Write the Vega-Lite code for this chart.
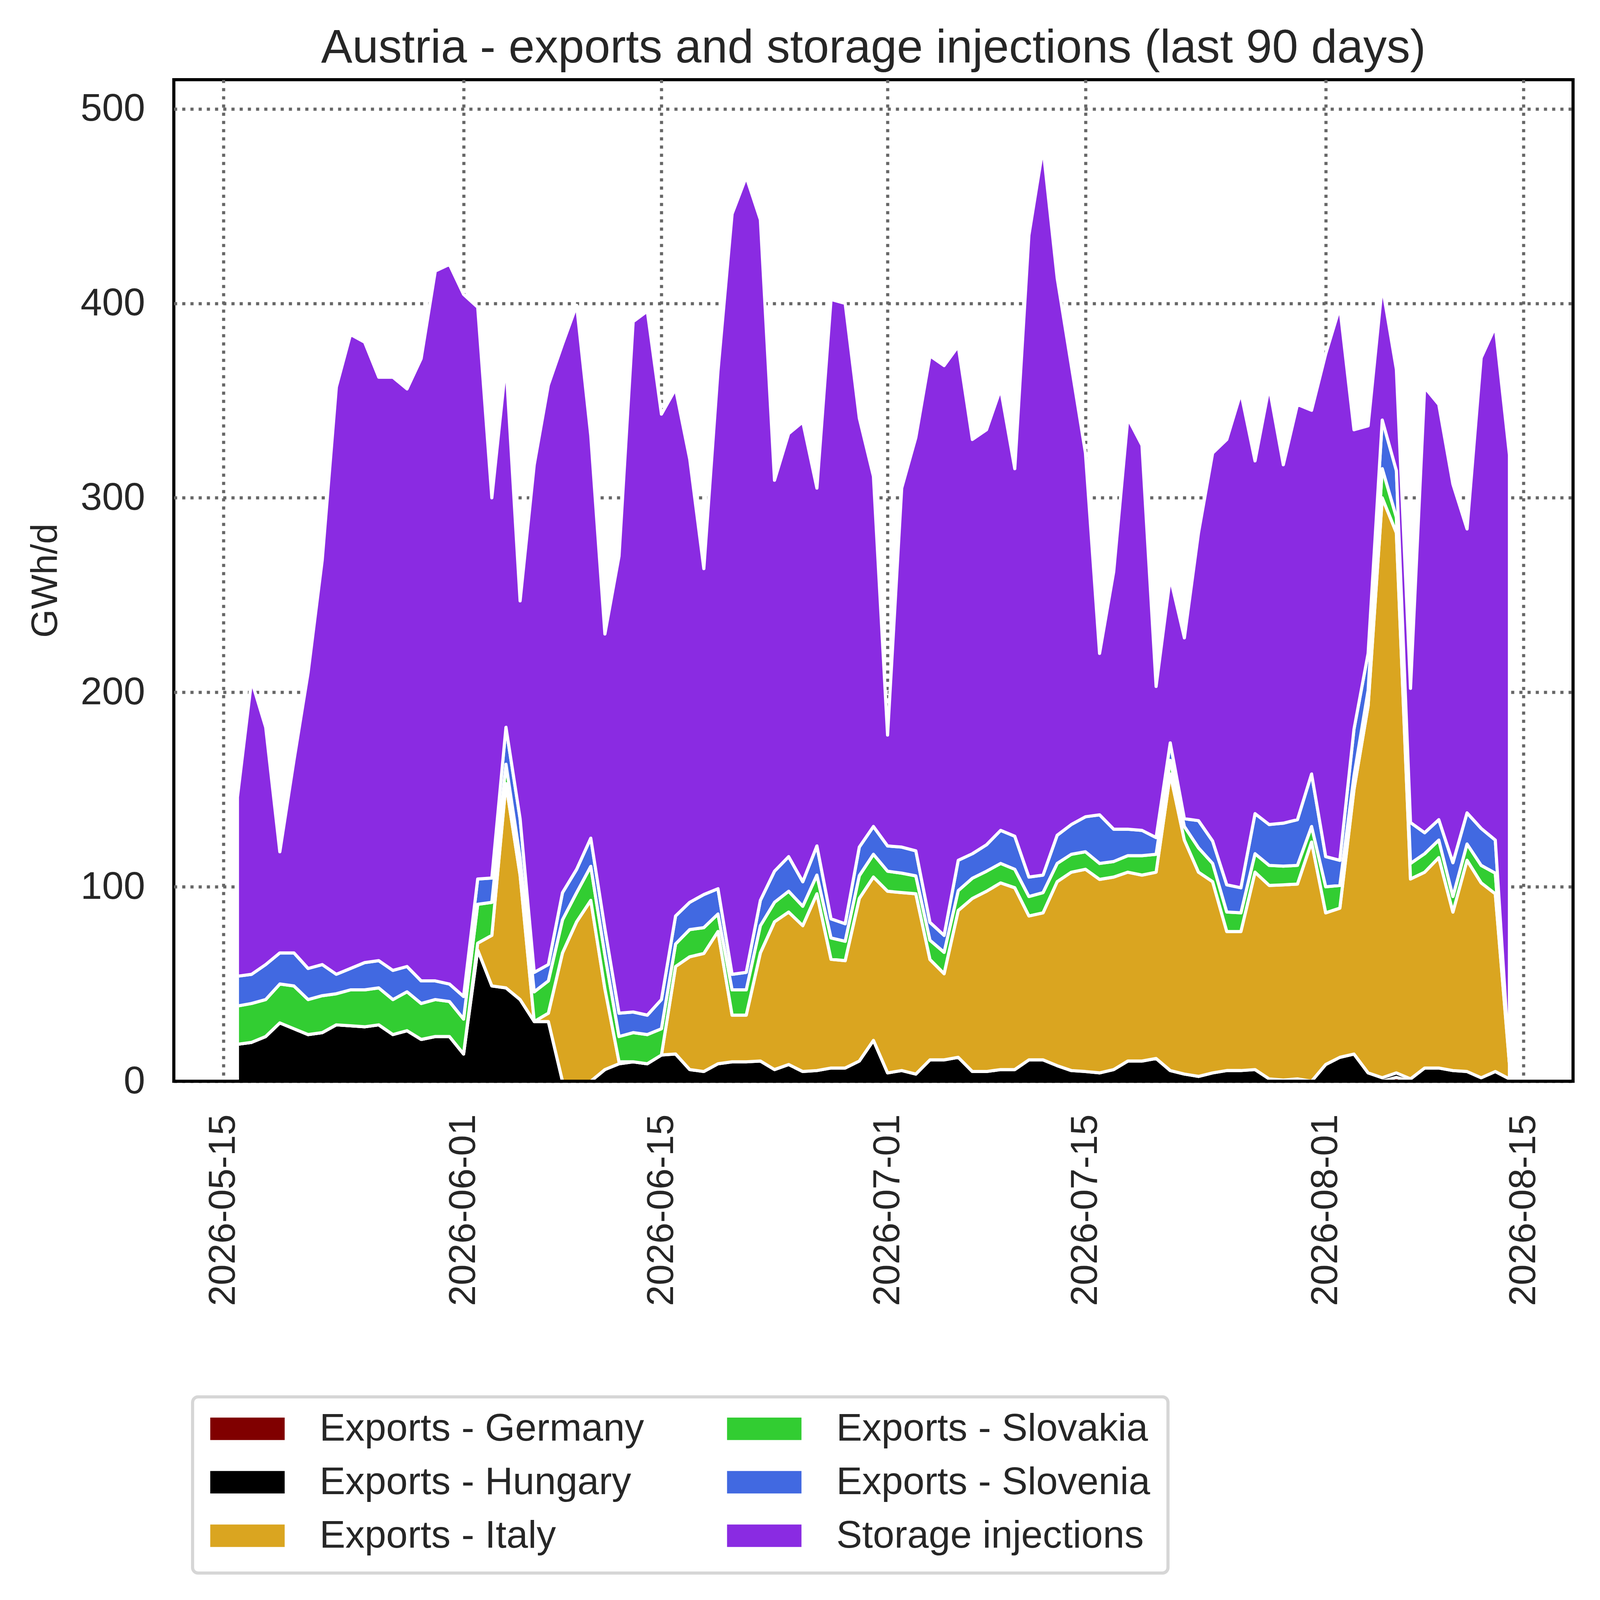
{
  "$schema": "https://vega.github.io/schema/vega-lite/v6.json",
  "width": 3582,
  "height": 2564,
  "autosize": {"type": "none"},
  "padding": {"left": 445, "top": 204, "right": 69, "bottom": 1328},
  "background": "white",
  "config": {
    "font": "Liberation Sans",
    "view": {"stroke": "black", "strokeWidth": 8},
    "legend": {"strokeWidth": 8}
  },
  "title": {
    "text": "Austria - exports and storage injections (last 90 days)",
    "fontSize": 120,
    "fontWeight": "normal",
    "color": "#262626",
    "anchor": "middle",
    "frame": "group",
    "offset": 19
  },
  "data": {
    "values": [
      {"date":"2026-05-16","series":"Exports - Germany","value":0},{"date":"2026-05-16","series":"Exports - Hungary","value":19},{"date":"2026-05-16","series":"Exports - Italy","value":0},{"date":"2026-05-16","series":"Exports - Slovakia","value":19.7},{"date":"2026-05-16","series":"Exports - Slovenia","value":15.3},{"date":"2026-05-16","series":"Storage injections","value":92},
      {"date":"2026-05-17","series":"Exports - Germany","value":0},{"date":"2026-05-17","series":"Exports - Hungary","value":20},{"date":"2026-05-17","series":"Exports - Italy","value":0},{"date":"2026-05-17","series":"Exports - Slovakia","value":20},{"date":"2026-05-17","series":"Exports - Slovenia","value":15},{"date":"2026-05-17","series":"Storage injections","value":151},
      {"date":"2026-05-18","series":"Exports - Germany","value":0},{"date":"2026-05-18","series":"Exports - Hungary","value":23},{"date":"2026-05-18","series":"Exports - Italy","value":0},{"date":"2026-05-18","series":"Exports - Slovakia","value":19},{"date":"2026-05-18","series":"Exports - Slovenia","value":18},{"date":"2026-05-18","series":"Storage injections","value":122},
      {"date":"2026-05-19","series":"Exports - Germany","value":0},{"date":"2026-05-19","series":"Exports - Hungary","value":30},{"date":"2026-05-19","series":"Exports - Italy","value":0},{"date":"2026-05-19","series":"Exports - Slovakia","value":20},{"date":"2026-05-19","series":"Exports - Slovenia","value":16},{"date":"2026-05-19","series":"Storage injections","value":52},
      {"date":"2026-05-20","series":"Exports - Germany","value":0},{"date":"2026-05-20","series":"Exports - Hungary","value":27},{"date":"2026-05-20","series":"Exports - Italy","value":0},{"date":"2026-05-20","series":"Exports - Slovakia","value":22},{"date":"2026-05-20","series":"Exports - Slovenia","value":17},{"date":"2026-05-20","series":"Storage injections","value":99},
      {"date":"2026-05-21","series":"Exports - Germany","value":0},{"date":"2026-05-21","series":"Exports - Hungary","value":24},{"date":"2026-05-21","series":"Exports - Italy","value":0},{"date":"2026-05-21","series":"Exports - Slovakia","value":18},{"date":"2026-05-21","series":"Exports - Slovenia","value":16},{"date":"2026-05-21","series":"Storage injections","value":152},
      {"date":"2026-05-22","series":"Exports - Germany","value":0},{"date":"2026-05-22","series":"Exports - Hungary","value":25},{"date":"2026-05-22","series":"Exports - Italy","value":0},{"date":"2026-05-22","series":"Exports - Slovakia","value":19},{"date":"2026-05-22","series":"Exports - Slovenia","value":16},{"date":"2026-05-22","series":"Storage injections","value":208},
      {"date":"2026-05-23","series":"Exports - Germany","value":0},{"date":"2026-05-23","series":"Exports - Hungary","value":29},{"date":"2026-05-23","series":"Exports - Italy","value":0},{"date":"2026-05-23","series":"Exports - Slovakia","value":16},{"date":"2026-05-23","series":"Exports - Slovenia","value":10},{"date":"2026-05-23","series":"Storage injections","value":302},
      {"date":"2026-05-24","series":"Exports - Germany","value":0},{"date":"2026-05-24","series":"Exports - Hungary","value":28.5},{"date":"2026-05-24","series":"Exports - Italy","value":0},{"date":"2026-05-24","series":"Exports - Slovakia","value":18.5},{"date":"2026-05-24","series":"Exports - Slovenia","value":11},{"date":"2026-05-24","series":"Storage injections","value":326},
      {"date":"2026-05-25","series":"Exports - Germany","value":0},{"date":"2026-05-25","series":"Exports - Hungary","value":28},{"date":"2026-05-25","series":"Exports - Italy","value":0},{"date":"2026-05-25","series":"Exports - Slovakia","value":19},{"date":"2026-05-25","series":"Exports - Slovenia","value":14},{"date":"2026-05-25","series":"Storage injections","value":319},
      {"date":"2026-05-26","series":"Exports - Germany","value":0},{"date":"2026-05-26","series":"Exports - Hungary","value":29},{"date":"2026-05-26","series":"Exports - Italy","value":0},{"date":"2026-05-26","series":"Exports - Slovakia","value":19},{"date":"2026-05-26","series":"Exports - Slovenia","value":14},{"date":"2026-05-26","series":"Storage injections","value":300},
      {"date":"2026-05-27","series":"Exports - Germany","value":0},{"date":"2026-05-27","series":"Exports - Hungary","value":24},{"date":"2026-05-27","series":"Exports - Italy","value":0},{"date":"2026-05-27","series":"Exports - Slovakia","value":18},{"date":"2026-05-27","series":"Exports - Slovenia","value":15},{"date":"2026-05-27","series":"Storage injections","value":305},
      {"date":"2026-05-28","series":"Exports - Germany","value":0},{"date":"2026-05-28","series":"Exports - Hungary","value":26},{"date":"2026-05-28","series":"Exports - Italy","value":0},{"date":"2026-05-28","series":"Exports - Slovakia","value":20},{"date":"2026-05-28","series":"Exports - Slovenia","value":13},{"date":"2026-05-28","series":"Storage injections","value":297},
      {"date":"2026-05-29","series":"Exports - Germany","value":0},{"date":"2026-05-29","series":"Exports - Hungary","value":21.5},{"date":"2026-05-29","series":"Exports - Italy","value":0},{"date":"2026-05-29","series":"Exports - Slovakia","value":18.5},{"date":"2026-05-29","series":"Exports - Slovenia","value":11.6},{"date":"2026-05-29","series":"Storage injections","value":320},
      {"date":"2026-05-30","series":"Exports - Germany","value":0},{"date":"2026-05-30","series":"Exports - Hungary","value":23},{"date":"2026-05-30","series":"Exports - Italy","value":0},{"date":"2026-05-30","series":"Exports - Slovakia","value":19},{"date":"2026-05-30","series":"Exports - Slovenia","value":9.6},{"date":"2026-05-30","series":"Storage injections","value":365},
      {"date":"2026-05-31","series":"Exports - Germany","value":0},{"date":"2026-05-31","series":"Exports - Hungary","value":23},{"date":"2026-05-31","series":"Exports - Italy","value":0},{"date":"2026-05-31","series":"Exports - Slovakia","value":18},{"date":"2026-05-31","series":"Exports - Slovenia","value":9},{"date":"2026-05-31","series":"Storage injections","value":370},
      {"date":"2026-06-01","series":"Exports - Germany","value":0},{"date":"2026-06-01","series":"Exports - Hungary","value":14},{"date":"2026-06-01","series":"Exports - Italy","value":0},{"date":"2026-06-01","series":"Exports - Slovakia","value":18},{"date":"2026-06-01","series":"Exports - Slovenia","value":11.6},{"date":"2026-06-01","series":"Storage injections","value":361},
      {"date":"2026-06-02","series":"Exports - Germany","value":0},{"date":"2026-06-02","series":"Exports - Hungary","value":67.5},{"date":"2026-06-02","series":"Exports - Italy","value":3.5},{"date":"2026-06-02","series":"Exports - Slovakia","value":20},{"date":"2026-06-02","series":"Exports - Slovenia","value":13},{"date":"2026-06-02","series":"Storage injections","value":294},
      {"date":"2026-06-03","series":"Exports - Germany","value":0},{"date":"2026-06-03","series":"Exports - Hungary","value":49},{"date":"2026-06-03","series":"Exports - Italy","value":26},{"date":"2026-06-03","series":"Exports - Slovakia","value":17},{"date":"2026-06-03","series":"Exports - Slovenia","value":12.5},{"date":"2026-06-03","series":"Storage injections","value":195.5},
      {"date":"2026-06-04","series":"Exports - Germany","value":0},{"date":"2026-06-04","series":"Exports - Hungary","value":48},{"date":"2026-06-04","series":"Exports - Italy","value":105},{"date":"2026-06-04","series":"Exports - Slovakia","value":10},{"date":"2026-06-04","series":"Exports - Slovenia","value":19},{"date":"2026-06-04","series":"Storage injections","value":187},
      {"date":"2026-06-05","series":"Exports - Germany","value":0},{"date":"2026-06-05","series":"Exports - Hungary","value":42},{"date":"2026-06-05","series":"Exports - Italy","value":64},{"date":"2026-06-05","series":"Exports - Slovakia","value":9},{"date":"2026-06-05","series":"Exports - Slovenia","value":20},{"date":"2026-06-05","series":"Storage injections","value":112},
      {"date":"2026-06-06","series":"Exports - Germany","value":0},{"date":"2026-06-06","series":"Exports - Hungary","value":30.7},{"date":"2026-06-06","series":"Exports - Italy","value":0},{"date":"2026-06-06","series":"Exports - Slovakia","value":15.3},{"date":"2026-06-06","series":"Exports - Slovenia","value":10},{"date":"2026-06-06","series":"Storage injections","value":261},
      {"date":"2026-06-07","series":"Exports - Germany","value":0},{"date":"2026-06-07","series":"Exports - Hungary","value":30.7},{"date":"2026-06-07","series":"Exports - Italy","value":4.3},{"date":"2026-06-07","series":"Exports - Slovakia","value":16.6},{"date":"2026-06-07","series":"Exports - Slovenia","value":8.4},{"date":"2026-06-07","series":"Storage injections","value":298},
      {"date":"2026-06-08","series":"Exports - Germany","value":0},{"date":"2026-06-08","series":"Exports - Hungary","value":0},{"date":"2026-06-08","series":"Exports - Italy","value":66},{"date":"2026-06-08","series":"Exports - Slovakia","value":17},{"date":"2026-06-08","series":"Exports - Slovenia","value":14},{"date":"2026-06-08","series":"Storage injections","value":282},
      {"date":"2026-06-09","series":"Exports - Germany","value":0},{"date":"2026-06-09","series":"Exports - Hungary","value":0},{"date":"2026-06-09","series":"Exports - Italy","value":82},{"date":"2026-06-09","series":"Exports - Slovakia","value":15},{"date":"2026-06-09","series":"Exports - Slovenia","value":12},{"date":"2026-06-09","series":"Storage injections","value":290},
      {"date":"2026-06-10","series":"Exports - Germany","value":0},{"date":"2026-06-10","series":"Exports - Hungary","value":0},{"date":"2026-06-10","series":"Exports - Italy","value":93},{"date":"2026-06-10","series":"Exports - Slovakia","value":17.5},{"date":"2026-06-10","series":"Exports - Slovenia","value":14.5},{"date":"2026-06-10","series":"Storage injections","value":207},
      {"date":"2026-06-11","series":"Exports - Germany","value":0},{"date":"2026-06-11","series":"Exports - Hungary","value":6},{"date":"2026-06-11","series":"Exports - Italy","value":41.5},{"date":"2026-06-11","series":"Exports - Slovakia","value":17.5},{"date":"2026-06-11","series":"Exports - Slovenia","value":13.5},{"date":"2026-06-11","series":"Storage injections","value":151.5},
      {"date":"2026-06-12","series":"Exports - Germany","value":0},{"date":"2026-06-12","series":"Exports - Hungary","value":9},{"date":"2026-06-12","series":"Exports - Italy","value":1},{"date":"2026-06-12","series":"Exports - Slovakia","value":13},{"date":"2026-06-12","series":"Exports - Slovenia","value":12},{"date":"2026-06-12","series":"Storage injections","value":235},
      {"date":"2026-06-13","series":"Exports - Germany","value":0},{"date":"2026-06-13","series":"Exports - Hungary","value":10},{"date":"2026-06-13","series":"Exports - Italy","value":0},{"date":"2026-06-13","series":"Exports - Slovakia","value":15},{"date":"2026-06-13","series":"Exports - Slovenia","value":10.6},{"date":"2026-06-13","series":"Storage injections","value":355},
      {"date":"2026-06-14","series":"Exports - Germany","value":0},{"date":"2026-06-14","series":"Exports - Hungary","value":9},{"date":"2026-06-14","series":"Exports - Italy","value":0},{"date":"2026-06-14","series":"Exports - Slovakia","value":15},{"date":"2026-06-14","series":"Exports - Slovenia","value":10},{"date":"2026-06-14","series":"Storage injections","value":362},
      {"date":"2026-06-15","series":"Exports - Germany","value":0},{"date":"2026-06-15","series":"Exports - Hungary","value":13.5},{"date":"2026-06-15","series":"Exports - Italy","value":0},{"date":"2026-06-15","series":"Exports - Slovakia","value":13.5},{"date":"2026-06-15","series":"Exports - Slovenia","value":15},{"date":"2026-06-15","series":"Storage injections","value":301},
      {"date":"2026-06-16","series":"Exports - Germany","value":0},{"date":"2026-06-16","series":"Exports - Hungary","value":14},{"date":"2026-06-16","series":"Exports - Italy","value":45},{"date":"2026-06-16","series":"Exports - Slovakia","value":11.6},{"date":"2026-06-16","series":"Exports - Slovenia","value":14.4},{"date":"2026-06-16","series":"Storage injections","value":271},
      {"date":"2026-06-17","series":"Exports - Germany","value":0},{"date":"2026-06-17","series":"Exports - Hungary","value":6},{"date":"2026-06-17","series":"Exports - Italy","value":58},{"date":"2026-06-17","series":"Exports - Slovakia","value":14},{"date":"2026-06-17","series":"Exports - Slovenia","value":14},{"date":"2026-06-17","series":"Storage injections","value":228},
      {"date":"2026-06-18","series":"Exports - Germany","value":0},{"date":"2026-06-18","series":"Exports - Hungary","value":5},{"date":"2026-06-18","series":"Exports - Italy","value":60.7},{"date":"2026-06-18","series":"Exports - Slovakia","value":13.3},{"date":"2026-06-18","series":"Exports - Slovenia","value":17},{"date":"2026-06-18","series":"Storage injections","value":167.6},
      {"date":"2026-06-19","series":"Exports - Germany","value":0},{"date":"2026-06-19","series":"Exports - Hungary","value":9},{"date":"2026-06-19","series":"Exports - Italy","value":68},{"date":"2026-06-19","series":"Exports - Slovakia","value":9},{"date":"2026-06-19","series":"Exports - Slovenia","value":13},{"date":"2026-06-19","series":"Storage injections","value":266},
      {"date":"2026-06-20","series":"Exports - Germany","value":0},{"date":"2026-06-20","series":"Exports - Hungary","value":10},{"date":"2026-06-20","series":"Exports - Italy","value":24},{"date":"2026-06-20","series":"Exports - Slovakia","value":13},{"date":"2026-06-20","series":"Exports - Slovenia","value":8},{"date":"2026-06-20","series":"Storage injections","value":391},
      {"date":"2026-06-21","series":"Exports - Germany","value":0},{"date":"2026-06-21","series":"Exports - Hungary","value":10},{"date":"2026-06-21","series":"Exports - Italy","value":24},{"date":"2026-06-21","series":"Exports - Slovakia","value":13},{"date":"2026-06-21","series":"Exports - Slovenia","value":9},{"date":"2026-06-21","series":"Storage injections","value":409},
      {"date":"2026-06-22","series":"Exports - Germany","value":0},{"date":"2026-06-22","series":"Exports - Hungary","value":10.4},{"date":"2026-06-22","series":"Exports - Italy","value":55.6},{"date":"2026-06-22","series":"Exports - Slovakia","value":14},{"date":"2026-06-22","series":"Exports - Slovenia","value":13},{"date":"2026-06-22","series":"Storage injections","value":350},
      {"date":"2026-06-23","series":"Exports - Germany","value":0},{"date":"2026-06-23","series":"Exports - Hungary","value":6},{"date":"2026-06-23","series":"Exports - Italy","value":76},{"date":"2026-06-23","series":"Exports - Slovakia","value":10},{"date":"2026-06-23","series":"Exports - Slovenia","value":16},{"date":"2026-06-23","series":"Storage injections","value":201},
      {"date":"2026-06-24","series":"Exports - Germany","value":0},{"date":"2026-06-24","series":"Exports - Hungary","value":8.6},{"date":"2026-06-24","series":"Exports - Italy","value":78.4},{"date":"2026-06-24","series":"Exports - Slovakia","value":10.7},{"date":"2026-06-24","series":"Exports - Slovenia","value":17.8},{"date":"2026-06-24","series":"Storage injections","value":217.5},
      {"date":"2026-06-25","series":"Exports - Germany","value":0},{"date":"2026-06-25","series":"Exports - Hungary","value":5},{"date":"2026-06-25","series":"Exports - Italy","value":75},{"date":"2026-06-25","series":"Exports - Slovakia","value":10},{"date":"2026-06-25","series":"Exports - Slovenia","value":12.6},{"date":"2026-06-25","series":"Storage injections","value":236.4},
      {"date":"2026-06-26","series":"Exports - Germany","value":0},{"date":"2026-06-26","series":"Exports - Hungary","value":5.5},{"date":"2026-06-26","series":"Exports - Italy","value":90.9},{"date":"2026-06-26","series":"Exports - Slovakia","value":9.6},{"date":"2026-06-26","series":"Exports - Slovenia","value":15},{"date":"2026-06-26","series":"Storage injections","value":184},
      {"date":"2026-06-27","series":"Exports - Germany","value":0},{"date":"2026-06-27","series":"Exports - Hungary","value":6.8},{"date":"2026-06-27","series":"Exports - Italy","value":55.9},{"date":"2026-06-27","series":"Exports - Slovakia","value":11},{"date":"2026-06-27","series":"Exports - Slovenia","value":9.8},{"date":"2026-06-27","series":"Storage injections","value":318.5},
      {"date":"2026-06-28","series":"Exports - Germany","value":0},{"date":"2026-06-28","series":"Exports - Hungary","value":6.8},{"date":"2026-06-28","series":"Exports - Italy","value":55.2},{"date":"2026-06-28","series":"Exports - Slovakia","value":10},{"date":"2026-06-28","series":"Exports - Slovenia","value":9},{"date":"2026-06-28","series":"Storage injections","value":319},
      {"date":"2026-06-29","series":"Exports - Germany","value":0},{"date":"2026-06-29","series":"Exports - Hungary","value":10.4},{"date":"2026-06-29","series":"Exports - Italy","value":83.6},{"date":"2026-06-29","series":"Exports - Slovakia","value":11.7},{"date":"2026-06-29","series":"Exports - Slovenia","value":14.7},{"date":"2026-06-29","series":"Storage injections","value":220.6},
      {"date":"2026-06-30","series":"Exports - Germany","value":0},{"date":"2026-06-30","series":"Exports - Hungary","value":21},{"date":"2026-06-30","series":"Exports - Italy","value":84},{"date":"2026-06-30","series":"Exports - Slovakia","value":11.7},{"date":"2026-06-30","series":"Exports - Slovenia","value":14.3},{"date":"2026-06-30","series":"Storage injections","value":180},
      {"date":"2026-07-01","series":"Exports - Germany","value":0},{"date":"2026-07-01","series":"Exports - Hungary","value":4.3},{"date":"2026-07-01","series":"Exports - Italy","value":93.4},{"date":"2026-07-01","series":"Exports - Slovakia","value":10.3},{"date":"2026-07-01","series":"Exports - Slovenia","value":13},{"date":"2026-07-01","series":"Storage injections","value":57},
      {"date":"2026-07-02","series":"Exports - Germany","value":0},{"date":"2026-07-02","series":"Exports - Hungary","value":5.5},{"date":"2026-07-02","series":"Exports - Italy","value":91.5},{"date":"2026-07-02","series":"Exports - Slovakia","value":10},{"date":"2026-07-02","series":"Exports - Slovenia","value":13.4},{"date":"2026-07-02","series":"Storage injections","value":184.6},
      {"date":"2026-07-03","series":"Exports - Germany","value":0},{"date":"2026-07-03","series":"Exports - Hungary","value":3.7},{"date":"2026-07-03","series":"Exports - Italy","value":92.7},{"date":"2026-07-03","series":"Exports - Slovakia","value":9.2},{"date":"2026-07-03","series":"Exports - Slovenia","value":12.9},{"date":"2026-07-03","series":"Storage injections","value":212.5},
      {"date":"2026-07-04","series":"Exports - Germany","value":0},{"date":"2026-07-04","series":"Exports - Hungary","value":11},{"date":"2026-07-04","series":"Exports - Italy","value":51.6},{"date":"2026-07-04","series":"Exports - Slovakia","value":9.9},{"date":"2026-07-04","series":"Exports - Slovenia","value":9.2},{"date":"2026-07-04","series":"Storage injections","value":291.3},
      {"date":"2026-07-05","series":"Exports - Germany","value":0},{"date":"2026-07-05","series":"Exports - Hungary","value":11},{"date":"2026-07-05","series":"Exports - Italy","value":44.3},{"date":"2026-07-05","series":"Exports - Slovakia","value":11},{"date":"2026-07-05","series":"Exports - Slovenia","value":8.7},{"date":"2026-07-05","series":"Storage injections","value":293},
      {"date":"2026-07-06","series":"Exports - Germany","value":0},{"date":"2026-07-06","series":"Exports - Hungary","value":12.3},{"date":"2026-07-06","series":"Exports - Italy","value":75.5},{"date":"2026-07-06","series":"Exports - Slovakia","value":10.2},{"date":"2026-07-06","series":"Exports - Slovenia","value":15.6},{"date":"2026-07-06","series":"Storage injections","value":264.4},
      {"date":"2026-07-07","series":"Exports - Germany","value":0},{"date":"2026-07-07","series":"Exports - Hungary","value":5},{"date":"2026-07-07","series":"Exports - Italy","value":89},{"date":"2026-07-07","series":"Exports - Slovakia","value":10.4},{"date":"2026-07-07","series":"Exports - Slovenia","value":12.6},{"date":"2026-07-07","series":"Storage injections","value":213},
      {"date":"2026-07-08","series":"Exports - Germany","value":0},{"date":"2026-07-08","series":"Exports - Hungary","value":5},{"date":"2026-07-08","series":"Exports - Italy","value":92.7},{"date":"2026-07-08","series":"Exports - Slovakia","value":10.3},{"date":"2026-07-08","series":"Exports - Slovenia","value":13.6},{"date":"2026-07-08","series":"Storage injections","value":213.4},
      {"date":"2026-07-09","series":"Exports - Germany","value":0},{"date":"2026-07-09","series":"Exports - Hungary","value":6},{"date":"2026-07-09","series":"Exports - Italy","value":96},{"date":"2026-07-09","series":"Exports - Slovakia","value":10},{"date":"2026-07-09","series":"Exports - Slovenia","value":17},{"date":"2026-07-09","series":"Storage injections","value":227},
      {"date":"2026-07-10","series":"Exports - Germany","value":0},{"date":"2026-07-10","series":"Exports - Hungary","value":6},{"date":"2026-07-10","series":"Exports - Italy","value":93.5},{"date":"2026-07-10","series":"Exports - Slovakia","value":9.5},{"date":"2026-07-10","series":"Exports - Slovenia","value":17},{"date":"2026-07-10","series":"Storage injections","value":189},
      {"date":"2026-07-11","series":"Exports - Germany","value":0},{"date":"2026-07-11","series":"Exports - Hungary","value":11},{"date":"2026-07-11","series":"Exports - Italy","value":74},{"date":"2026-07-11","series":"Exports - Slovakia","value":10},{"date":"2026-07-11","series":"Exports - Slovenia","value":10},{"date":"2026-07-11","series":"Storage injections","value":330},
      {"date":"2026-07-12","series":"Exports - Germany","value":0},{"date":"2026-07-12","series":"Exports - Hungary","value":11},{"date":"2026-07-12","series":"Exports - Italy","value":75.6},{"date":"2026-07-12","series":"Exports - Slovakia","value":10.4},{"date":"2026-07-12","series":"Exports - Slovenia","value":9},{"date":"2026-07-12","series":"Storage injections","value":374},
      {"date":"2026-07-13","series":"Exports - Germany","value":0},{"date":"2026-07-13","series":"Exports - Hungary","value":8},{"date":"2026-07-13","series":"Exports - Italy","value":94.6},{"date":"2026-07-13","series":"Exports - Slovakia","value":9.4},{"date":"2026-07-13","series":"Exports - Slovenia","value":14.5},{"date":"2026-07-13","series":"Storage injections","value":286.5},
      {"date":"2026-07-14","series":"Exports - Germany","value":0},{"date":"2026-07-14","series":"Exports - Hungary","value":5.5},{"date":"2026-07-14","series":"Exports - Italy","value":102},{"date":"2026-07-14","series":"Exports - Slovakia","value":9.2},{"date":"2026-07-14","series":"Exports - Slovenia","value":15.3},{"date":"2026-07-14","series":"Storage injections","value":236},
      {"date":"2026-07-15","series":"Exports - Germany","value":0},{"date":"2026-07-15","series":"Exports - Hungary","value":5},{"date":"2026-07-15","series":"Exports - Italy","value":104},{"date":"2026-07-15","series":"Exports - Slovakia","value":9},{"date":"2026-07-15","series":"Exports - Slovenia","value":18},{"date":"2026-07-15","series":"Storage injections","value":187},
      {"date":"2026-07-16","series":"Exports - Germany","value":0},{"date":"2026-07-16","series":"Exports - Hungary","value":4.3},{"date":"2026-07-16","series":"Exports - Italy","value":99.5},{"date":"2026-07-16","series":"Exports - Slovakia","value":8.2},{"date":"2026-07-16","series":"Exports - Slovenia","value":25},{"date":"2026-07-16","series":"Storage injections","value":83},
      {"date":"2026-07-17","series":"Exports - Germany","value":0},{"date":"2026-07-17","series":"Exports - Hungary","value":6},{"date":"2026-07-17","series":"Exports - Italy","value":99},{"date":"2026-07-17","series":"Exports - Slovakia","value":8},{"date":"2026-07-17","series":"Exports - Slovenia","value":16.6},{"date":"2026-07-17","series":"Storage injections","value":132.4},
      {"date":"2026-07-18","series":"Exports - Germany","value":0},{"date":"2026-07-18","series":"Exports - Hungary","value":10.4},{"date":"2026-07-18","series":"Exports - Italy","value":97.1},{"date":"2026-07-18","series":"Exports - Slovakia","value":8.5},{"date":"2026-07-18","series":"Exports - Slovenia","value":13.6},{"date":"2026-07-18","series":"Storage injections","value":211.4},
      {"date":"2026-07-19","series":"Exports - Germany","value":0},{"date":"2026-07-19","series":"Exports - Hungary","value":10.4},{"date":"2026-07-19","series":"Exports - Italy","value":95.6},{"date":"2026-07-19","series":"Exports - Slovakia","value":10},{"date":"2026-07-19","series":"Exports - Slovenia","value":13},{"date":"2026-07-19","series":"Storage injections","value":198},
      {"date":"2026-07-20","series":"Exports - Germany","value":0},{"date":"2026-07-20","series":"Exports - Hungary","value":11.7},{"date":"2026-07-20","series":"Exports - Italy","value":95.8},{"date":"2026-07-20","series":"Exports - Slovakia","value":9.2},{"date":"2026-07-20","series":"Exports - Slovenia","value":8.6},{"date":"2026-07-20","series":"Storage injections","value":77.7},
      {"date":"2026-07-21","series":"Exports - Germany","value":0},{"date":"2026-07-21","series":"Exports - Hungary","value":5.5},{"date":"2026-07-21","series":"Exports - Italy","value":152.5},{"date":"2026-07-21","series":"Exports - Slovakia","value":7},{"date":"2026-07-21","series":"Exports - Slovenia","value":9},{"date":"2026-07-21","series":"Storage injections","value":85},
      {"date":"2026-07-22","series":"Exports - Germany","value":0},{"date":"2026-07-22","series":"Exports - Hungary","value":3.7},{"date":"2026-07-22","series":"Exports - Italy","value":120.3},{"date":"2026-07-22","series":"Exports - Slovakia","value":7},{"date":"2026-07-22","series":"Exports - Slovenia","value":4},{"date":"2026-07-22","series":"Storage injections","value":93},
      {"date":"2026-07-23","series":"Exports - Germany","value":0},{"date":"2026-07-23","series":"Exports - Hungary","value":2.5},{"date":"2026-07-23","series":"Exports - Italy","value":105},{"date":"2026-07-23","series":"Exports - Slovakia","value":12.5},{"date":"2026-07-23","series":"Exports - Slovenia","value":14},{"date":"2026-07-23","series":"Storage injections","value":148},
      {"date":"2026-07-24","series":"Exports - Germany","value":0},{"date":"2026-07-24","series":"Exports - Hungary","value":4.3},{"date":"2026-07-24","series":"Exports - Italy","value":98.3},{"date":"2026-07-24","series":"Exports - Slovakia","value":9.4},{"date":"2026-07-24","series":"Exports - Slovenia","value":11.5},{"date":"2026-07-24","series":"Storage injections","value":199.5},
      {"date":"2026-07-25","series":"Exports - Germany","value":0},{"date":"2026-07-25","series":"Exports - Hungary","value":5.5},{"date":"2026-07-25","series":"Exports - Italy","value":71.5},{"date":"2026-07-25","series":"Exports - Slovakia","value":10},{"date":"2026-07-25","series":"Exports - Slovenia","value":14},{"date":"2026-07-25","series":"Storage injections","value":229},
      {"date":"2026-07-26","series":"Exports - Germany","value":0},{"date":"2026-07-26","series":"Exports - Hungary","value":5.5},{"date":"2026-07-26","series":"Exports - Italy","value":71.5},{"date":"2026-07-26","series":"Exports - Slovakia","value":9.6},{"date":"2026-07-26","series":"Exports - Slovenia","value":12.9},{"date":"2026-07-26","series":"Storage injections","value":254.5},
      {"date":"2026-07-27","series":"Exports - Germany","value":0},{"date":"2026-07-27","series":"Exports - Hungary","value":6},{"date":"2026-07-27","series":"Exports - Italy","value":101.5},{"date":"2026-07-27","series":"Exports - Slovakia","value":9.5},{"date":"2026-07-27","series":"Exports - Slovenia","value":20.6},{"date":"2026-07-27","series":"Storage injections","value":181.4},
      {"date":"2026-07-28","series":"Exports - Germany","value":0},{"date":"2026-07-28","series":"Exports - Hungary","value":1.2},{"date":"2026-07-28","series":"Exports - Italy","value":99.5},{"date":"2026-07-28","series":"Exports - Slovakia","value":10.3},{"date":"2026-07-28","series":"Exports - Slovenia","value":21},{"date":"2026-07-28","series":"Storage injections","value":225},
      {"date":"2026-07-29","series":"Exports - Germany","value":0},{"date":"2026-07-29","series":"Exports - Hungary","value":0.6},{"date":"2026-07-29","series":"Exports - Italy","value":100.4},{"date":"2026-07-29","series":"Exports - Slovakia","value":9.6},{"date":"2026-07-29","series":"Exports - Slovenia","value":22.1},{"date":"2026-07-29","series":"Storage injections","value":184.3},
      {"date":"2026-07-30","series":"Exports - Germany","value":0},{"date":"2026-07-30","series":"Exports - Hungary","value":1.2},{"date":"2026-07-30","series":"Exports - Italy","value":100.2},{"date":"2026-07-30","series":"Exports - Slovakia","value":9.6},{"date":"2026-07-30","series":"Exports - Slovenia","value":23.5},{"date":"2026-07-30","series":"Storage injections","value":213.5},
      {"date":"2026-07-31","series":"Exports - Germany","value":0},{"date":"2026-07-31","series":"Exports - Hungary","value":0},{"date":"2026-07-31","series":"Exports - Italy","value":123},{"date":"2026-07-31","series":"Exports - Slovakia","value":8},{"date":"2026-07-31","series":"Exports - Slovenia","value":27},{"date":"2026-07-31","series":"Storage injections","value":187},
      {"date":"2026-08-01","series":"Exports - Germany","value":0},{"date":"2026-08-01","series":"Exports - Hungary","value":8.6},{"date":"2026-08-01","series":"Exports - Italy","value":78},{"date":"2026-08-01","series":"Exports - Slovakia","value":13.4},{"date":"2026-08-01","series":"Exports - Slovenia","value":15.5},{"date":"2026-08-01","series":"Storage injections","value":258.5},
      {"date":"2026-08-02","series":"Exports - Germany","value":0},{"date":"2026-08-02","series":"Exports - Hungary","value":12.3},{"date":"2026-08-02","series":"Exports - Italy","value":76.7},{"date":"2026-08-02","series":"Exports - Slovakia","value":11.7},{"date":"2026-08-02","series":"Exports - Slovenia","value":12.9},{"date":"2026-08-02","series":"Storage injections","value":284.4},
      {"date":"2026-08-03","series":"Exports - Germany","value":0},{"date":"2026-08-03","series":"Exports - Hungary","value":14},{"date":"2026-08-03","series":"Exports - Italy","value":136},{"date":"2026-08-03","series":"Exports - Slovakia","value":7},{"date":"2026-08-03","series":"Exports - Slovenia","value":24},{"date":"2026-08-03","series":"Storage injections","value":154},
      {"date":"2026-08-04","series":"Exports - Germany","value":0},{"date":"2026-08-04","series":"Exports - Hungary","value":4.3},{"date":"2026-08-04","series":"Exports - Italy","value":188.7},{"date":"2026-08-04","series":"Exports - Slovakia","value":8},{"date":"2026-08-04","series":"Exports - Slovenia","value":19},{"date":"2026-08-04","series":"Storage injections","value":117},
      {"date":"2026-08-05","series":"Exports - Germany","value":0},{"date":"2026-08-05","series":"Exports - Hungary","value":1.8},{"date":"2026-08-05","series":"Exports - Italy","value":298.2},{"date":"2026-08-05","series":"Exports - Slovakia","value":15},{"date":"2026-08-05","series":"Exports - Slovenia","value":25},{"date":"2026-08-05","series":"Storage injections","value":69},
      {"date":"2026-08-06","series":"Exports - Germany","value":2},{"date":"2026-08-06","series":"Exports - Hungary","value":2.3},{"date":"2026-08-06","series":"Exports - Italy","value":277.7},{"date":"2026-08-06","series":"Exports - Slovakia","value":8},{"date":"2026-08-06","series":"Exports - Slovenia","value":24},{"date":"2026-08-06","series":"Storage injections","value":52},
      {"date":"2026-08-07","series":"Exports - Germany","value":0},{"date":"2026-08-07","series":"Exports - Hungary","value":1.2},{"date":"2026-08-07","series":"Exports - Italy","value":102.8},{"date":"2026-08-07","series":"Exports - Slovakia","value":8},{"date":"2026-08-07","series":"Exports - Slovenia","value":21},{"date":"2026-08-07","series":"Storage injections","value":69},
      {"date":"2026-08-08","series":"Exports - Germany","value":0},{"date":"2026-08-08","series":"Exports - Hungary","value":6.8},{"date":"2026-08-08","series":"Exports - Italy","value":100.7},{"date":"2026-08-08","series":"Exports - Slovakia","value":9.5},{"date":"2026-08-08","series":"Exports - Slovenia","value":10.8},{"date":"2026-08-08","series":"Storage injections","value":229},
      {"date":"2026-08-09","series":"Exports - Germany","value":0},{"date":"2026-08-09","series":"Exports - Hungary","value":6.8},{"date":"2026-08-09","series":"Exports - Italy","value":108.2},{"date":"2026-08-09","series":"Exports - Slovakia","value":9},{"date":"2026-08-09","series":"Exports - Slovenia","value":10.5},{"date":"2026-08-09","series":"Storage injections","value":213.5},
      {"date":"2026-08-10","series":"Exports - Germany","value":0},{"date":"2026-08-10","series":"Exports - Hungary","value":5.5},{"date":"2026-08-10","series":"Exports - Italy","value":81.5},{"date":"2026-08-10","series":"Exports - Slovakia","value":8},{"date":"2026-08-10","series":"Exports - Slovenia","value":17.4},{"date":"2026-08-10","series":"Storage injections","value":194.6},
      {"date":"2026-08-11","series":"Exports - Germany","value":0},{"date":"2026-08-11","series":"Exports - Hungary","value":5},{"date":"2026-08-11","series":"Exports - Italy","value":108.6},{"date":"2026-08-11","series":"Exports - Slovakia","value":8.4},{"date":"2026-08-11","series":"Exports - Slovenia","value":16},{"date":"2026-08-11","series":"Storage injections","value":146},
      {"date":"2026-08-12","series":"Exports - Germany","value":0},{"date":"2026-08-12","series":"Exports - Hungary","value":1.8},{"date":"2026-08-12","series":"Exports - Italy","value":100.2},{"date":"2026-08-12","series":"Exports - Slovakia","value":9},{"date":"2026-08-12","series":"Exports - Slovenia","value":19},{"date":"2026-08-12","series":"Storage injections","value":242},
      {"date":"2026-08-13","series":"Exports - Germany","value":0},{"date":"2026-08-13","series":"Exports - Hungary","value":5},{"date":"2026-08-13","series":"Exports - Italy","value":91.4},{"date":"2026-08-13","series":"Exports - Slovakia","value":10.6},{"date":"2026-08-13","series":"Exports - Slovenia","value":17},{"date":"2026-08-13","series":"Storage injections","value":264},
      {"date":"2026-08-14","series":"Exports - Germany","value":0},{"date":"2026-08-14","series":"Exports - Hungary","value":1.2},{"date":"2026-08-14","series":"Exports - Italy","value":7.8},{"date":"2026-08-14","series":"Exports - Slovakia","value":0},{"date":"2026-08-14","series":"Exports - Slovenia","value":0},{"date":"2026-08-14","series":"Storage injections","value":313}
    ]
  },
  "layer": [
    {
      "mark": {"type": "area", "stroke": "white", "strokeWidth": 8, "strokeJoin": "round", "opacity": 1, "interpolate": "linear"},
      "encoding": {
        "x": {
          "field": "date",
          "type": "temporal",
          "scale": {
            "type": "utc",
            "domain": [
              {"year": 2026, "month": 5, "date": 11, "hours": 12, "utc": true},
              {"year": 2026, "month": 8, "date": 18, "hours": 12, "utc": true}
            ]
          },
          "axis": {
            "title": null,
            "values": [
              {"year": 2026, "month": 5, "date": 15, "utc": true},
              {"year": 2026, "month": 6, "date": 1, "utc": true},
              {"year": 2026, "month": 6, "date": 15, "utc": true},
              {"year": 2026, "month": 7, "date": 1, "utc": true},
              {"year": 2026, "month": 7, "date": 15, "utc": true},
              {"year": 2026, "month": 8, "date": 1, "utc": true},
              {"year": 2026, "month": 8, "date": 15, "utc": true}
            ],
            "format": "%Y-%m-%d",
            "labelAngle": 270,
            "labelFontSize": 96,
            "labelColor": "#262626",
            "labelPadding": 84,
            "labelLimit": 2000,
            "labelFlush": false,
            "labelOverlap": false,
            "ticks": false,
            "domain": false,
            "grid": true,
            "gridColor": "#666666",
            "gridDash": [8, 13],
            "gridWidth": 8
          }
        },
        "y": {
          "field": "value",
          "type": "quantitative",
          "stack": "zero",
          "scale": {"domain": [0, 515], "nice": false},
          "axis": {
            "title": "GWh/d",
            "titleFontSize": 94,
            "titleFontWeight": "normal",
            "titleColor": "#262626",
            "titlePadding": 80,
            "values": [0, 100, 200, 300, 400, 500],
            "labelFontSize": 99,
            "labelColor": "#262626",
            "labelPadding": 74,
            "labelLimit": 2000,
            "ticks": false,
            "domain": false,
            "grid": true,
            "gridColor": "#666666",
            "gridDash": [8, 13],
            "gridWidth": 8
          }
        },
        "color": {
          "field": "series",
          "type": "nominal",
          "scale": {
            "domain": ["Exports - Germany", "Exports - Hungary", "Exports - Italy", "Exports - Slovakia", "Exports - Slovenia", "Storage injections"],
            "range": ["#800000", "#000000", "#daa520", "#32cd32", "#4169e1", "#8a2be2"]
          },
          "legend": {
            "title": null,
            "orient": "none",
            "legendX": 48,
            "legendY": 3372,
            "columns": 2,
            "symbolType": "M-1,-0.301H1V0.301H-1Z",
            "symbolSize": 36290,
            "symbolStrokeWidth": 0,
            "symbolOpacity": 1,
            "clipHeight": 73,
            "labelFontSize": 99,
            "labelColor": "#262626",
            "labelLimit": 3000,
            "labelOffset": 89,
            "rowPadding": 37,
            "columnPadding": 212,
            "padding": 45,
            "strokeColor": "#d6d6d6",
            "cornerRadius": 14,
            "fillColor": "white"
          }
        },
        "order": {"field": "series", "sort": "ascending"}
      }
    },
    {
      "mark": {"type": "rule", "color": "black", "strokeWidth": 8},
      "encoding": {"y": {"datum": 0}}
    }
  ]
}
